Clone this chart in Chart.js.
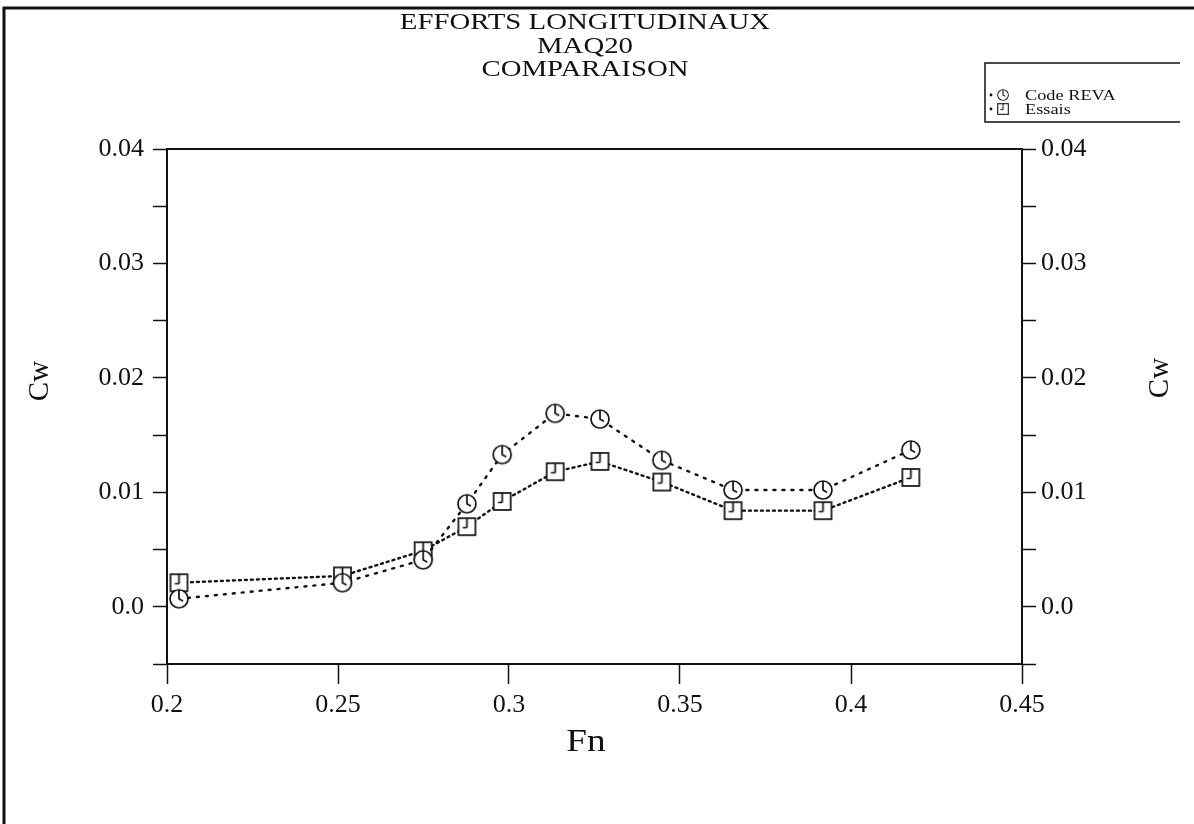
<!DOCTYPE html>
<html>
<head>
<meta charset="utf-8">
<title>Efforts longitudinaux MAQ20</title>
<script src="https://cdn.jsdelivr.net/npm/chart.js@4.4.1/dist/chart.umd.min.js"></script>
<style>
  html, body { margin: 0; padding: 0; background: #fff; }
  #wrap { width: 1194px; height: 824px; position: relative; }
</style>
</head>
<body>
<div id="wrap"><canvas id="cwChart" width="1194" height="824"></canvas></div>
<script>
// Froude numbers of the runs
const fnValues = [0.2035, 0.2513, 0.2749, 0.2877, 0.2980, 0.3135, 0.3266, 0.3447, 0.3655, 0.3918, 0.4175];
// Wave resistance coefficient, computed (REVA code)
const cwCodeReva = [0.0007, 0.0021, 0.0041, 0.0090, 0.0133, 0.0169, 0.0164, 0.0128, 0.0102, 0.0102, 0.0137];
// Wave resistance coefficient, towing tank
const cwEssais = [0.0021, 0.0027, 0.0049, 0.0070, 0.0092, 0.0118, 0.0127, 0.0109, 0.0084, 0.0084, 0.0113];

const titleLines = ["EFFORTS LONGITUDINAUX", "MAQ20", "COMPARAISON"];
const seriesLabels = ["Code REVA", "Essais"];
const xTitle = "Fn";
const yTitle = "Cw";

const serif = "'Liberation Serif', 'DejaVu Serif', serif";

// little clock-face and box markers
function makeMarker(kind, size) {
  const c = document.createElement("canvas");
  c.width = size + 4;
  c.height = size + 4;
  const g = c.getContext("2d");
  const m = c.width / 2;
  const r = size / 2;
  g.lineWidth = 1.7;
  g.strokeStyle = "#111";
  g.fillStyle = "#fff";
  if (kind === "clock") {
    g.beginPath();
    g.arc(m, m, r, 0, Math.PI * 2);
    g.fill();
    g.stroke();
    g.beginPath();
    g.moveTo(m, m - r);
    g.lineTo(m, m);
    g.lineTo(m + r * 0.45, m + r * 0.25);
    g.stroke();
  } else {
    g.fillRect(m - r, m - r, size, size);
    g.strokeRect(m - r, m - r, size, size);
    g.beginPath();
    g.moveTo(m, m - r);
    g.lineTo(m, m + 1);
    g.moveTo(m - r * 0.5, m + 1);
    g.lineTo(m, m + 1);
    g.stroke();
  }
  return c;
}

const clockMark = makeMarker("clock", 18);
const boxMark = makeMarker("box", 17);

function toPoints(xs, ys) {
  return xs.map((x, i) => ({ x: x, y: ys[i] }));
}

// text drawn a little wider than the font, like the old plotter output
function wideText(ctx, text, x, y, sx, rot) {
  ctx.save();
  ctx.translate(x, y);
  if (rot) ctx.rotate(rot);
  ctx.scale(sx, 1);
  ctx.fillText(text, 0, 0);
  ctx.restore();
}

// page frame, plot box, titles and the small legend
const decorations = {
  id: "decorations",
  afterDraw(chart) {
    const ctx = chart.ctx;
    const a = chart.chartArea;
    ctx.save();

    ctx.strokeStyle = "#111";
    ctx.lineWidth = 3;
    ctx.beginPath();
    ctx.moveTo(4, 824);
    ctx.lineTo(4, 8);
    ctx.lineTo(1194, 8);
    ctx.stroke();

    ctx.lineWidth = 2;
    ctx.strokeRect(a.left, a.top, a.right - a.left, a.bottom - a.top);

    ctx.fillStyle = "#111";
    ctx.textAlign = "center";
    ctx.textBaseline = "middle";
    ctx.font = "24px " + serif;
    titleLines.forEach((t, i) => wideText(ctx, t, 585, 23 + i * 23.5, 1.2));

    ctx.font = "31px " + serif;
    wideText(ctx, xTitle, 586, 743, 1.2);
    ctx.font = "29px " + serif;
    wideText(ctx, yTitle, 40, 381, 1.0, -Math.PI / 2);
    wideText(ctx, yTitle, 1160, 378, 1.0, -Math.PI / 2);

    // legend
    ctx.lineWidth = 1.5;
    ctx.beginPath();
    ctx.moveTo(1180, 63);
    ctx.lineTo(985, 63);
    ctx.lineTo(985, 122);
    ctx.lineTo(1180, 122);
    ctx.stroke();
    ctx.textAlign = "left";
    ctx.font = "15px " + serif;
    const marks = [clockMark, boxMark];
    seriesLabels.forEach((lab, i) => {
      const y = 95 + i * 14;
      ctx.beginPath();
      ctx.arc(991, y, 1.4, 0, Math.PI * 2);
      ctx.fill();
      const s = 13;
      ctx.drawImage(marks[i], 1003 - s / 2, y - s / 2, s, s);
      wideText(ctx, lab, 1025, y + 1, 1.22);
    });

    ctx.restore();
  }
};

const tickLabelY = (v) => {
  const k = Math.round(v * 1000);
  if (k % 10 !== 0) return "";
  return k === 0 ? "0.0" : (k / 1000).toFixed(2);
};

const yAxisBase = {
  type: "linear",
  min: -0.005,
  max: 0.04,
  border: { display: true, color: "#111", width: 2 },
  grid: { drawOnChartArea: false, drawTicks: true, tickLength: 14, tickWidth: 1.5, tickColor: "#111" },
  ticks: {
    stepSize: 0.005,
    autoSkip: false,
    padding: 9,
    color: "#111",
    font: { family: serif, size: 26 },
    callback: tickLabelY
  }
};

new Chart(document.getElementById("cwChart"), {
  type: "scatter",
  data: {
    datasets: [
      {
        label: seriesLabels[0],
        data: toPoints(fnValues, cwCodeReva),
        showLine: true,
        borderColor: "#111",
        borderWidth: 2.4,
        borderDash: [2, 7],
        borderCapStyle: "round",
        pointStyle: clockMark,
        pointRadius: 10
      },
      {
        label: seriesLabels[1],
        data: toPoints(fnValues, cwEssais),
        showLine: true,
        borderColor: "#111",
        borderWidth: 2.4,
        borderDash: [2, 4],
        borderCapStyle: "round",
        pointStyle: boxMark,
        pointRadius: 10
      }
    ]
  },
  options: {
    responsive: false,
    animation: false,
    layout: { padding: { top: 149, left: 0, right: 0, bottom: 0 } },
    plugins: {
      legend: { display: false },
      title: { display: false },
      tooltip: { enabled: false }
    },
    scales: {
      x: {
        type: "linear",
        min: 0.2,
        max: 0.45,
        border: { display: true, color: "#111", width: 2 },
        grid: { drawOnChartArea: false, drawTicks: true, tickLength: 20, tickWidth: 1.5, tickColor: "#111" },
        ticks: {
          stepSize: 0.05,
          autoSkip: false,
          maxRotation: 0,
          padding: 6,
          color: "#111",
          font: { family: serif, size: 26 },
          callback: (v) => String(+v.toFixed(2))
        },
        afterFit(scale) { scale.height = 160; }
      },
      y: Object.assign({}, yAxisBase, {
        position: "left",
        afterFit(scale) { scale.width = 167; }
      }),
      y2: Object.assign({}, yAxisBase, {
        position: "right",
        ticks: Object.assign({}, yAxisBase.ticks, { padding: 5 }),
        afterFit(scale) { scale.width = 172; }
      })
    }
  },
  plugins: [decorations]
});
</script>
</body>
</html>
